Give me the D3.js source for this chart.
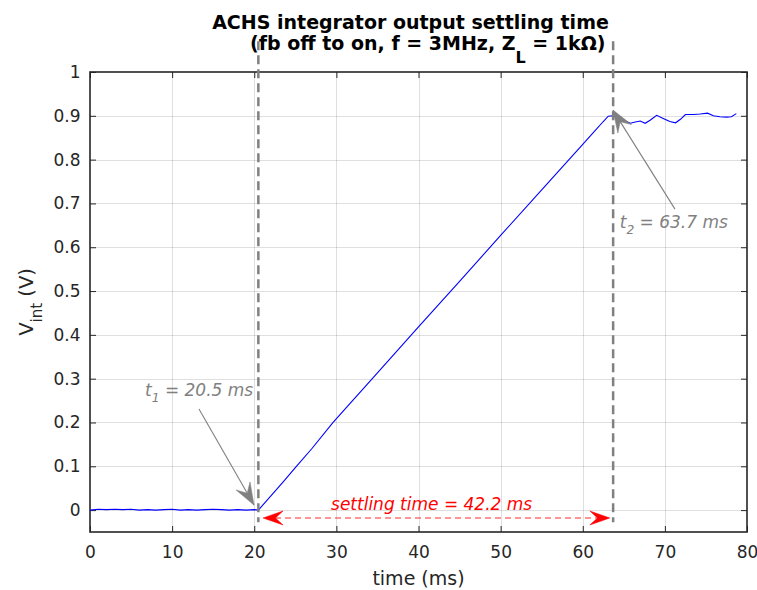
<!DOCTYPE html>
<html>
<head>
<meta charset="utf-8">
<script src="https://cdn.jsdelivr.net/npm/d3@7"></script>
<style>
  html, body { margin: 0; padding: 0; background: #fff; }
  svg { display: block; }
  text { font-family: "DejaVu Sans", sans-serif; }
</style>
</head>
<body>
<svg id="chart" width="757" height="590"></svg>
<script>
// ---------------- data ----------------
const timeMs = [0, 1, 2, 3, 4, 5, 6, 7, 8, 9, 10, 11, 12, 13, 14, 15, 16, 17, 18, 19, 20, 20.5,
  22, 23.5, 25, 27, 29.6, 35, 40, 45, 50, 55, 60, 61.5, 62.5, 63.1,
  63.7, 64.5, 65.8, 66.4, 67.0, 67.6, 68.2, 69.0, 69.8, 70.6, 71.3, 71.9, 72.5, 73.5, 74.3, 75.2,
  75.9, 76.7, 77.5, 78.1, 78.7];
const vint = [0, 0.002, 0.001, 0.002, 0.001, 0.002, 0, 0.001, 0, 0.001, 0.002, 0, 0.001, 0, 0.001, 0.002, 0.001, 0, 0.001, 0, 0.001, 0,
  0.032, 0.064, 0.097, 0.14, 0.2, 0.313, 0.418, 0.522, 0.627, 0.731, 0.835, 0.866, 0.887, 0.899,
  0.9, 0.894, 0.883, 0.886, 0.888, 0.883, 0.89, 0.901, 0.894, 0.887, 0.884, 0.892, 0.903, 0.903, 0.904, 0.906,
  0.9, 0.898, 0.897, 0.898, 0.905];

const xTicks = [0, 10, 20, 30, 40, 50, 60, 70, 80];
const xTickLabels = ["0", "10", "20", "30", "40", "50", "60", "70", "80"];
const yTicks = [0, 0.1, 0.2, 0.3, 0.4, 0.5, 0.6, 0.7, 0.8, 0.9, 1];
const yTickLabels = ["0", "0.1", "0.2", "0.3", "0.4", "0.5", "0.6", "0.7", "0.8", "0.9", "1"];
const xDomain = [0, 80];
const yDomain = [-0.05, 1];

const t1 = 20.5, t2 = 63.7;
const settling = 42.2;

// ---------------- layout ----------------
const L = 90, R = 747, T = 72, B = 532;
const svg = d3.select("#chart");
const x = d3.scaleLinear().domain(xDomain).range([L, R]);
const y = d3.scaleLinear().domain(yDomain).range([B, T]);
const axisColor = "#262626";
const gray = "#808080";

svg.append("defs").append("clipPath").attr("id", "plotclip")
  .append("rect").attr("x", L).attr("y", T).attr("width", R - L).attr("height", B - T);

// grid
const grid = svg.append("g").attr("stroke", "rgba(38,38,38,0.15)").attr("stroke-width", 1);
grid.selectAll(".gx").data(xTicks.slice(1, -1)).join("line")
  .attr("x1", d => Math.round(x(d)) + 0.5).attr("x2", d => Math.round(x(d)) + 0.5)
  .attr("y1", T).attr("y2", B);
grid.selectAll(".gy").data(yTicks.filter(d => d < 1)).join("line")
  .attr("y1", d => Math.round(y(d)) + 0.5).attr("y2", d => Math.round(y(d)) + 0.5)
  .attr("x1", L).attr("x2", R);

// axes
function styleAxis(g) {
  g.select(".domain").remove();
  g.selectAll(".tick line").attr("stroke", axisColor).attr("stroke-width", 1);
  g.selectAll(".tick text").attr("fill", axisColor).attr("font-size", 17)
    .attr("font-family", "DejaVu Sans, sans-serif");
}
svg.append("g").attr("transform", `translate(0,${B})`)
  .call(d3.axisBottom(x).tickValues(xTicks).tickFormat((d, i) => xTickLabels[i])
    .tickSizeInner(-6).tickSizeOuter(0).tickPadding(14))
  .call(styleAxis);
svg.append("g").attr("transform", `translate(0,${T})`)
  .call(d3.axisTop(x).tickValues(xTicks).tickFormat("").tickSizeInner(-6).tickSizeOuter(0))
  .call(styleAxis);
svg.append("g").attr("transform", `translate(${L},0)`)
  .call(d3.axisLeft(y).tickValues(yTicks).tickFormat((d, i) => yTickLabels[i])
    .tickSizeInner(-6).tickSizeOuter(0).tickPadding(9.5))
  .call(styleAxis);
svg.append("g").attr("transform", `translate(${R},0)`)
  .call(d3.axisRight(y).tickValues(yTicks).tickFormat("").tickSizeInner(-6).tickSizeOuter(0))
  .call(styleAxis);

// box
svg.append("rect").attr("x", L).attr("y", T).attr("width", R - L).attr("height", B - T)
  .attr("fill", "none").attr("stroke", axisColor).attr("stroke-width", 1.6);

// data line
const line = d3.line().x((d, i) => x(timeMs[i])).y(d => y(d));
svg.append("path").datum(vint).attr("clip-path", "url(#plotclip)")
  .attr("d", line).attr("fill", "none").attr("stroke", "#0000ff").attr("stroke-width", 1.1);

// dashed vertical markers
[t1, t2].forEach(t => {
  svg.append("line")
    .attr("x1", x(t)).attr("x2", x(t))
    .attr("y1", y(1.07)).attr("y2", y(-0.028))
    .attr("stroke", gray).attr("stroke-width", 2.5).attr("stroke-dasharray", "9,5");
});

// arrow helper (vback2-style head)
function arrowHead(g, tx, ty, fx, fy, len, wid, color) {
  const ang = Math.atan2(ty - fy, tx - fx) * 180 / Math.PI;
  g.append("path")
    .attr("d", `M0,0L${-len},${-wid / 2}L${-len * 0.62},0L${-len},${wid / 2}Z`)
    .attr("transform", `translate(${tx},${ty}) rotate(${ang})`)
    .attr("fill", color).attr("stroke", color).attr("stroke-width", 0.5);
}
function grayArrow(ft, fv, tt, tv) {
  const g = svg.append("g");
  const fx = x(ft), fy = y(fv), tx = x(tt), ty = y(tv);
  g.append("line").attr("x1", fx).attr("y1", fy).attr("x2", tx).attr("y2", ty)
    .attr("stroke", gray).attr("stroke-width", 1.1);
  arrowHead(g, tx, ty, fx, fy, 22, 16, gray);
}
grayArrow(13.27, 0.2306, 19.97, 0.0114);
grayArrow(71.23, 0.687, 63.68, 0.913);

// red double arrow
{
  const g = svg.append("g");
  const xa = x(21.07), xb = x(63.3), yy = y(-0.018);
  g.append("line").attr("x1", xa + 12).attr("x2", xb - 12).attr("y1", yy).attr("y2", yy)
    .attr("stroke", "#ff2a2a").attr("stroke-width", 1.1).attr("stroke-dasharray", "6,4");
  arrowHead(g, xa, yy, xa + 50, yy, 20, 14, "#ff0000");
  arrowHead(g, xb, yy, xb - 50, yy, 20, 14, "#ff0000");
}

// annotation texts
function subText(tx, ty, main, sub, rest, color, size) {
  const t = svg.append("text").attr("x", tx).attr("y", ty)
    .attr("fill", color).attr("font-size", size).attr("font-style", "italic");
  t.append("tspan").text(main);
  t.append("tspan").attr("dy", 6).attr("font-size", size * 0.72).text(sub);
  t.append("tspan").attr("dy", -6).text(rest);
}
subText(x(6.7), y(0.26), "t", "1", " = 20.5 ms", gray, 17);
subText(x(64.5), y(0.644), "t", "2", " = 63.7 ms", gray, 17);

svg.append("text").attr("x", x(41.6)).attr("y", y(0.001))
  .attr("text-anchor", "middle").attr("fill", "#ff0000")
  .attr("font-size", 17).attr("font-style", "italic")
  .text(`settling time = ${settling} ms`);

// title
svg.append("text").attr("x", 410.5).attr("y", 28.5).attr("text-anchor", "middle")
  .attr("font-size", 19).attr("font-weight", "bold").attr("fill", "#000")
  .text("ACHS integrator output settling time");
{
  const t = svg.append("text").attr("x", 250).attr("y", 50)
    .attr("font-size", 19).attr("font-weight", "bold").attr("fill", "#000");
  t.append("tspan").text("(fb off to on, f = 3MHz, Z");
  t.append("tspan").attr("dy", 13).attr("font-size", 16).text("L");
  t.append("tspan").attr("dy", -13).text(" = 1k\u03A9)");
}

// axis labels
svg.append("text").attr("x", (L + R) / 2).attr("y", 585).attr("text-anchor", "middle")
  .attr("font-size", 19).attr("fill", axisColor).text("time (ms)");
{
  const t = svg.append("text").attr("transform", `translate(33,${(T + B) / 2}) rotate(-90)`)
    .attr("text-anchor", "middle").attr("font-size", 19.5).attr("fill", axisColor);
  t.append("tspan").text("V");
  t.append("tspan").attr("dy", 9).attr("font-size", 15).text("int");
  t.append("tspan").attr("dy", -9).text(" (V)");
}
</script>
</body>
</html>
